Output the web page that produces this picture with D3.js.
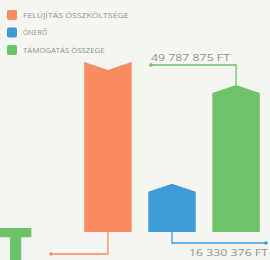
<!DOCTYPE html>
<html lang="hu">
<head>
    <meta charset="UTF-8">
    <title>Felújítás költségei</title>
    <script src="https://d3js.org/d3.v7.min.js"></script>
    <style>
        html, body {
            margin: 0;
            background: #f5f5f2;
        }
        text {
            font-family: "Open Sans", sans-serif;
            fill: #939391;
        }
    </style>
</head>
<body>
<div class="chart"></div>

<script>

    var categories = ["FELÚJÍTÁS ÖSSZKÖLTSÉGE", "ÖNERŐ", "TÁMOGATÁS ÖSSZEGE"];
    var values = [66118251, 16330376, 49787875];
    var valueLabels = ["", "16 330 376 FT", "49 787 875 FT"];
    var colors = ["#f88b5f", "#3f9bd6", "#6dc26a"];

    var width = 270;
    var height = 260;
    var baseY = 232;
    // bars higher than this are cut off (the orange one gets a notch)
    var visibleMax = 57600000;

    var svg = d3.select('.chart').append('svg')
        .attr('width', width)
        .attr('height', height);

    var x = d3.scaleBand()
        .domain(categories)
        .range([81, 263])
        .paddingInner(0.26)
        .paddingOuter(0.05);

    var y = d3.scaleLinear()
        .domain([0, visibleMax])
        .range([baseY, 62])
        .clamp(true);

    // legend
    var legend = svg.append('g').attr('class', 'legend');
    var legendY = d3.scalePoint().domain(categories).range([15, 50]);
    categories.forEach(function (c, i) {
        legend.append('rect')
            .attr('x', 7).attr('y', legendY(c) - 5)
            .attr('width', 10).attr('height', 10)
            .attr('rx', 2)
            .attr('fill', colors[i]);
        legend.append('text')
            .attr('x', 23).attr('y', legendY(c) + 2.5)
            .attr('font-size', 6.5)
            .attr('textLength', c.length * 4.8)
            .attr('lengthAdjust', 'spacingAndGlyphs')
            .text(c);
    });

    // bar shapes: pointed roof for normal bars, notch for a cut bar
    var roof = 8;
    function barPath(c, v) {
        var x0 = x(c), x1 = x(c) + x.bandwidth(), xm = x(c) + x.bandwidth() / 2;
        var top = y(v);
        if (v > visibleMax) {
            return 'M' + x0 + ',' + baseY + 'L' + x0 + ',' + top + 'L' + xm + ',' + (top + roof) +
                'L' + x1 + ',' + top + 'L' + x1 + ',' + baseY + 'Z';
        }
        return 'M' + x0 + ',' + baseY + 'L' + x0 + ',' + (top + roof) + 'L' + xm + ',' + top +
            'L' + x1 + ',' + (top + roof) + 'L' + x1 + ',' + baseY + 'Z';
    }

    // connector lines
    var lines = svg.append('g').attr('fill', 'none').attr('stroke-width', 1.3);
    var cx = function (i) { return x(categories[i]) + x.bandwidth() / 2; };

    // total: down and left toward the big letter
    lines.append('path')
        .attr('stroke', colors[0])
        .attr('d', 'M' + cx(0) + ',' + baseY + 'V254H52');
    svg.append('circle').attr('cx', 51).attr('cy', 254).attr('r', 1.8).attr('fill', colors[0]);

    // own contribution: down and right
    lines.append('path')
        .attr('stroke', colors[1])
        .attr('d', 'M' + cx(1) + ',' + baseY + 'V243H266');
    svg.append('circle').attr('cx', 266).attr('cy', 243).attr('r', 1.8).attr('fill', colors[1]);
    svg.append('text')
        .attr('x', 268).attr('y', 256)
        .attr('text-anchor', 'end')
        .attr('font-size', 9.5)
        .attr('textLength', 79)
        .attr('lengthAdjust', 'spacingAndGlyphs')
        .text(valueLabels[1]);

    // grant: up and left
    lines.append('path')
        .attr('stroke', colors[2])
        .attr('d', 'M' + cx(2) + ',' + y(values[2]) + 'V65H152');
    svg.append('circle').attr('cx', 151).attr('cy', 65).attr('r', 1.8).attr('fill', colors[2]);
    svg.append('text')
        .attr('x', 151).attr('y', 61)
        .attr('font-size', 9.5)
        .attr('textLength', 79)
        .attr('lengthAdjust', 'spacingAndGlyphs')
        .text(valueLabels[2]);

    // bars
    svg.append('g').selectAll('path')
        .data(categories)
        .enter().append('path')
        .attr('d', function (c, i) { return barPath(c, values[i]); })
        .attr('fill', function (c, i) { return colors[i]; });

    // big green "T" peeking in at the bottom left
    svg.append('text')
        .attr('x', -1.5).attr('y', 270)
        .attr('font-family', 'Roboto, sans-serif')
        .attr('font-weight', 900)
        .attr('font-size', 58)
        .style('fill', colors[2])
        .text('T');

</script>
</body>
</html>
